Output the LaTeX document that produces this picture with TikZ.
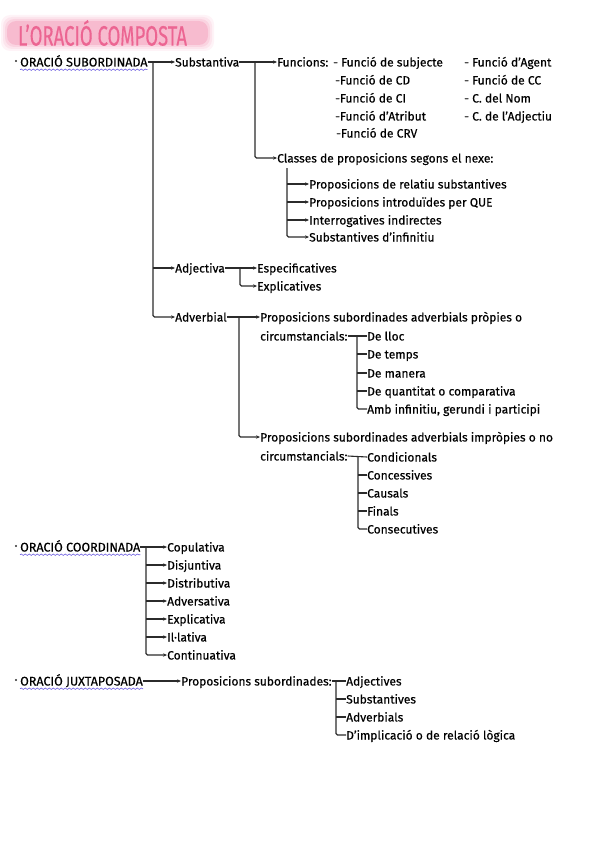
\documentclass[tikz,border=0pt]{standalone}
\usepackage{fontspec}
\setmainfont{Fira Sans}[FakeBold=0.4]
\usetikzlibrary{arrows.meta,decorations.pathmorphing,calc}
\definecolor{ln}{HTML}{2B2B2B}
\definecolor{pinkT}{HTML}{EC6592}
\definecolor{pinkH}{HTML}{F6AEC6}
\definecolor{wav}{HTML}{6B5BE0}
\begin{document}
\begin{tikzpicture}[x=1pt,y=-1pt,
 txt/.style={anchor=west,inner sep=0pt,text height=9.5pt,text depth=0.5pt,font=\fontsize{12}{14}\selectfont,text=black},
 head/.style={txt,font=\fontsize{12.5}{14}\selectfont},
 conn/.style={draw=ln,line width=1.1pt},
 arr/.style={conn,-{Stealth[length=4pt,width=3.4pt]}},
 wavy/.style={draw=wav,line width=0.6pt,decorate,decoration={snake,amplitude=0.7pt,segment length=4pt}},
 bus/.style={conn,rounded corners=1.5pt}]
\useasboundingbox (0,0) rectangle (601,848);
% title highlight (soft)
\foreach \d/\o in {6/0.15,4/0.2,2/0.3,0/0.65}{
  \fill[pinkH,opacity=\o,rounded corners=9pt] (7-\d,21-\d) rectangle (208+\d,45+\d);}
\node[anchor=west,inner sep=0pt,text=pinkT,font=\fontsize{28}{30}\selectfont,xscale=0.66] (title) at (18,33) {L’ORACIÓ COMPOSTA};
% ---------- subordinada
\fill[ln] (16,61) circle (1.2);
\node[head] (os) at (20,62) {ORACIÓ SUBORDINADA};
\draw[wavy] ($(os.south west)+(0,2.5)$) -- ($(os.south east)+(0,2.5)$);
\node[txt] (subst) at (175,62) {Substantiva};
\node[txt] (adj) at (175,268) {Adjectiva};
\node[txt] (adv) at (175,317) {Adverbial};
\draw[arr] (os.east) -- (subst.west);
\coordinate (bA) at (153,62);
\draw[bus,arr] (bA) |- (adv.west);
\draw[arr] (bA |- adj.west) -- (adj.west);
% substantiva
\node[txt] (func) at (277,62) {Funcions:};
\draw[arr] (subst.east) -- (func.west);
\node[txt] (f1) at (333,62) {- Funció de subjecte};
\node[txt] (f2) at (335,80) {-Funció de CD};
\node[txt] (f3) at (335,98) {-Funció de CI};
\node[txt] (f4) at (335,116) {-Funció d’Atribut};
\node[txt] (f5) at (336,133) {-Funció de CRV};
\node[txt] (g1) at (464,62) {- Funció d’Agent};
\node[txt] (g2) at (464,80) {- Funció de CC};
\node[txt] (g3) at (464,98) {- C. del Nom};
\node[txt] (g4) at (464,116) {- C. de l’Adjectiu};
\node[txt] (cls) at (277,158) {Classes de proposicions segons el nexe:};
\coordinate (bS) at (255,62);
\draw[bus,arr] (bS) |- (cls.west);
\node[txt] (c1) at (309,184) {Proposicions de relatiu substantives};
\node[txt] (c2) at (309,202) {Proposicions introduïdes per QUE};
\node[txt] (c3) at (309,220) {Interrogatives indirectes};
\node[txt] (c4) at (309,237) {Substantives d’infinitiu};
\coordinate (bC) at (287,168);
\draw[bus,arr] (bC) |- (c4.west);
\foreach \i in {1,...,3}{\draw[arr] (bC |- c\i.west) -- (c\i.west);}
% adjectiva
\node[txt] (esp) at (257,268) {Especificatives};
\node[txt] (expl) at (257,286) {Explicatives};
\draw[arr] (adj.east) -- (esp.west);
\coordinate (bAd) at (240,268);
\draw[bus,arr] (bAd) |- (expl.west);
% adverbial
\node[txt] (pr1) at (260,317) {Proposicions subordinades adverbials pròpies o};
\node[txt] (cir1) at (260,336) {circumstancials:};
\node[txt] (pr2) at (260,437) {Proposicions subordinades adverbials impròpies o no};
\node[txt] (cir2) at (260,456) {circumstancials:};
\draw[arr] (adv.east) -- (pr1.west);
\coordinate (bAv) at (239,317);
\draw[bus,arr] (bAv) |- (pr2.west);
\node[txt] (d1) at (367,336) {De lloc};
\node[txt] (d2) at (367,354) {De temps};
\node[txt] (d3) at (367,373) {De manera};
\node[txt] (d4) at (367,391) {De quantitat o comparativa};
\node[txt] (d5) at (367,409) {Amb infinitiu, gerundi i participi};
\draw[conn] (cir1.east) -- (d1.west);
\coordinate (bD) at (357,336);
\draw[bus] (bD) |- (d5.west);
\foreach \i in {2,...,4}{\draw[conn] (bD |- d\i.west) -- (d\i.west);}
\node[txt] (e1) at (367,457) {Condicionals};
\node[txt] (e2) at (367,475) {Concessives};
\node[txt] (e3) at (367,493) {Causals};
\node[txt] (e4) at (367,511) {Finals};
\node[txt] (e5) at (367,529) {Consecutives};
\draw[conn] (cir2.east) -- (e1.west);
\coordinate (bE) at (358,457);
\draw[bus] (bE) |- (e5.west);
\foreach \i in {2,...,4}{\draw[conn] (bE |- e\i.west) -- (e\i.west);}
% ---------- coordinada
\fill[ln] (16,546) circle (1.2);
\node[head] (oc) at (20,547) {ORACIÓ COORDINADA};
\draw[wavy] ($(oc.south west)+(0,2.5)$) -- ($(oc.south east)+(0,2.5)$);
\node[txt] (k1) at (167,547) {Copulativa};
\node[txt] (k2) at (167,565) {Disjuntiva};
\node[txt] (k3) at (167,583) {Distributiva};
\node[txt] (k4) at (167,601) {Adversativa};
\node[txt] (k5) at (167,619) {Explicativa};
\node[txt] (k6) at (167,637) {Il·lativa};
\node[txt] (k7) at (167,655) {Continuativa};
\draw[arr] (oc.east) -- (k1.west);
\coordinate (bK) at (146,547);
\draw[bus,arr] (bK) |- (k7.west);
\foreach \i in {2,...,6}{\draw[arr] (bK |- k\i.west) -- (k\i.west);}
% ---------- juxtaposada
\fill[ln] (16,680) circle (1.2);
\node[head] (oj) at (20,681) {ORACIÓ JUXTAPOSADA};
\draw[wavy] ($(oj.south west)+(0,2.5)$) -- ($(oj.south east)+(0,2.5)$);
\node[txt] (ps) at (181,681) {Proposicions subordinades:};
\draw[arr] (oj.east) -- (ps.west);
\node[txt] (j1) at (346,681) {Adjectives};
\node[txt] (j2) at (346,699) {Substantives};
\node[txt] (j3) at (346,717) {Adverbials};
\node[txt] (j4) at (346,735) {D’implicació o de relació lògica};
\draw[conn] (ps.east) -- (j1.west);
\coordinate (bJ) at (336,681);
\draw[bus] (bJ) |- (j4.west);
\foreach \i in {2,3}{\draw[conn] (bJ |- j\i.west) -- (j\i.west);}
\end{tikzpicture}
\end{document}
